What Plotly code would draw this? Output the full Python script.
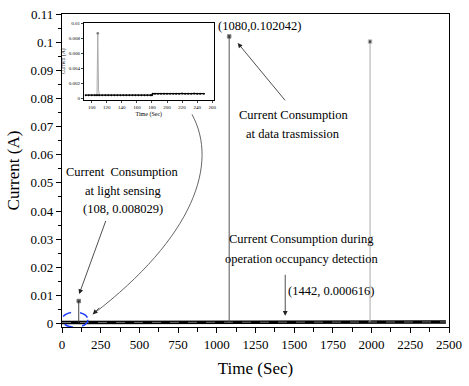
import plotly.graph_objects as go

# ---------------- data ----------------
# main baseline (quiescent consumption)
base_time = [0, 50, 100, 107, 109, 150, 180, 181, 250, 500, 750, 1000, 1079, 1081,
             1250, 1442, 1500, 1750, 1989, 1991, 2000, 2250, 2480]
base_current = [0.0004, 0.0004, 0.0004, 0.0004, 0.0004, 0.0004, 0.0004, 0.0006, 0.0006,
                0.0006, 0.0006, 0.0006, 0.0006, 0.0006, 0.0006, 0.000616, 0.0006, 0.0006,
                0.0006, 0.0006, 0.0006, 0.0006, 0.0006]

# main spikes
spike_time = [108, 1080, 1990]
spike_peak = [0.008029, 0.102042, 0.1002]
spike_base = [0.0004, 0.0006, 0.0006]
spike_color = ["#444444", "#555555", "#aaaaaa"]

# inset (zoom on 90-260 s)
inset_time = [92, 96, 100, 104, 107, 110, 114, 118, 122, 126, 130, 134, 138, 142, 146,
              150, 154, 158, 162, 166, 170, 174, 178, 180, 181, 184, 188, 192, 196, 200,
              204, 208, 212, 216, 220, 224, 228, 232, 236, 240, 244, 249]
inset_current = [0.0004, 0.0004, 0.0004, 0.0004, 0.0004, 0.0004, 0.00038, 0.0004, 0.0004,
                 0.00038, 0.0004, 0.0004, 0.00038, 0.0004, 0.0004, 0.0004, 0.00038, 0.0004,
                 0.0004, 0.0004, 0.00038, 0.0004, 0.0004, 0.0004, 0.0006, 0.0006, 0.00058,
                 0.0006, 0.0006, 0.0006, 0.00058, 0.0006, 0.0006, 0.0006, 0.00062, 0.0006,
                 0.0006, 0.0006, 0.00062, 0.0006, 0.0006, 0.0006]
inset_spike_time = [107, 108, 109, 110]
inset_spike_current = [0.0004, 0.0087, 0.0012, 0.0004]

x_ticks = [0, 250, 500, 750, 1000, 1250, 1500, 1750, 2000, 2250, 2500]
inset_x_ticks = [100, 120, 140, 160, 180, 200, 220, 240, 260]

FONT = "Liberation Serif"

fig = go.Figure()

# baseline
fig.add_trace(go.Scatter(x=base_time, y=base_current, mode="lines",
                         line=dict(color="black", width=3.5), showlegend=False))
fig.add_trace(go.Scatter(x=base_time, y=base_current, mode="lines",
                         line=dict(color="#8a8a8a", width=0.8, dash="dash"), showlegend=False))

# spikes
for t, p, b, c in zip(spike_time, spike_peak, spike_base, spike_color):
    fig.add_trace(go.Scatter(x=[t, t], y=[b, p], mode="lines+markers",
                             line=dict(color=c, width=1),
                             marker=dict(color="black", size=[0, 3.5], symbol="square"),
                             showlegend=False))

# inset traces
fig.add_trace(go.Scatter(x=inset_spike_time, y=inset_spike_current, mode="lines",
                         line=dict(color="#aaaaaa", width=1),
                         xaxis="x2", yaxis="y2", showlegend=False))
fig.add_trace(go.Scatter(x=inset_spike_time[1:2], y=inset_spike_current[1:2], mode="markers",
                         marker=dict(color="#777777", size=2.5),
                         xaxis="x2", yaxis="y2", showlegend=False))
fig.add_trace(go.Scatter(x=inset_time, y=inset_current, mode="lines+markers",
                         line=dict(color="black", width=1.3),
                         marker=dict(color="black", size=2),
                         xaxis="x2", yaxis="y2", showlegend=False))

# shapes: blue dashed ellipse and curved connector
fig.add_shape(type="circle", xref="x", yref="y", x0=0, x1=167, y0=-0.0013, y1=0.0041,
              line=dict(color="#1f3fff", width=1.5, dash="dash"))
fig.add_shape(type="path", xref="x", yref="y",
              path="M 840,0.0743 C 1013,0.0569 853,0.0308 199,0.0033",
              line=dict(color="#666666", width=1))

ann = []
def txt(x, y, s):
    ann.append(dict(x=x, y=y, xref="x", yref="y", text=s, showarrow=False,
                    font=dict(family=FONT, size=12.5, color="black")))

def arrow(x, y, ax, ay):
    ann.append(dict(x=x, y=y, ax=ax, ay=ay, xref="x", yref="y", axref="x", ayref="y",
                    text="", showarrow=True, arrowhead=2, arrowsize=1.2, arrowwidth=0.8,
                    arrowcolor="#222222"))

txt(1276, 0.1056, "(1080,0.102042)")
txt(1494, 0.0742, "Current Consumption")
txt(1494, 0.0672, "at data trasmission")
txt(391, 0.0540, "Current  Consumption")
txt(391, 0.0470, "at light sensing")
txt(391, 0.0407, "(108, 0.008029)")
txt(1545, 0.0301, "Current Consumption during")
txt(1545, 0.0231, "operation occupancy detection")
txt(1737, 0.0116, "(1442, 0.000616)")

arrow(1135, 0.0997, 1449, 0.0788)
arrow(111, 0.0105, 286, 0.037)
arrow(1442, 0.0028, 1442, 0.0179)
ann.append(dict(x=199, y=0.0033, xref="x", yref="y", ax=8, ay=-8, text="",
                showarrow=True, arrowhead=2, arrowsize=1.2, arrowwidth=0.8,
                arrowcolor="#222222"))

fig.update_layout(
    width=469, height=386,
    margin=dict(l=62, r=17, t=7, b=59),
    paper_bgcolor="white", plot_bgcolor="white",
    font=dict(family=FONT, color="black"),
    annotations=ann,
    xaxis=dict(range=[0, 2500], tickvals=x_ticks, ticks="outside", ticklen=5,
               tickwidth=1, tickcolor="black", showline=True, linecolor="black",
               linewidth=1.3, mirror=True, showgrid=False, zeroline=False,
               tickfont=dict(family=FONT, size=13),
               minor=dict(ticks="outside", ticklen=4, dtick=125, tickcolor="black"),
               title=dict(text="Time (Sec)", font=dict(family=FONT, size=17), standoff=11)),
    yaxis=dict(range=[-0.0012, 0.11], dtick=0.01, tick0=0, ticks="outside", ticklen=5,
               tickwidth=1, tickcolor="black", showline=True, linecolor="black",
               linewidth=1.3, mirror=True, showgrid=False, zeroline=False,
               tickfont=dict(family=FONT, size=13),
               minor=dict(ticks="outside", ticklen=3, dtick=0.005, tickcolor="black"),
               title=dict(text="Current (A)", font=dict(family=FONT, size=17), standoff=6)),
    xaxis2=dict(domain=[0.0564, 0.392], anchor="y2", range=[89.5, 262],
                tickvals=inset_x_ticks, ticks="outside", ticklen=2, tickwidth=0.6,
                showline=True, linecolor="black", linewidth=0.7, mirror=True,
                showgrid=False, zeroline=False, tickfont=dict(family=FONT, size=5),
                title=dict(text="Time (Sec)", font=dict(family=FONT, size=6), standoff=2)),
    yaxis2=dict(domain=[0.725, 0.972], anchor="x2", range=[-0.00026, 0.0101],
                tickvals=[0, 0.002, 0.004, 0.006, 0.008, 0.01],
                ticktext=["0", "0.002", "0.004", "0.006", "0.008", "0.01"],
                ticks="outside", ticklen=2, tickwidth=0.6,
                showline=True, linecolor="black", linewidth=0.7, mirror=True,
                showgrid=False, zeroline=False, tickfont=dict(family=FONT, size=5),
                title=dict(text="Current (A)", font=dict(family=FONT, size=5.5), standoff=2)),
)

fig.write_html("out.html")
